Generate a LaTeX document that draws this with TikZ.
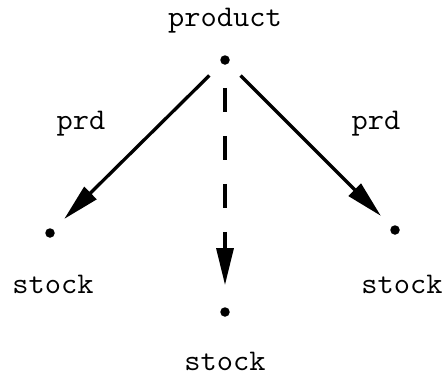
\documentclass[tikz,border=0pt]{standalone}
\usepackage{fontspec}
\newfontfamily\courfont{Latin Modern Mono}[FakeStretch=1.05]
\usetikzlibrary{arrows.meta}
\begin{document}
\begin{tikzpicture}[x=1pt,y=-1pt,
  pt/.style={circle,fill=black,inner sep=0pt,minimum size=9.5pt},
  lbl/.style={font=\courfont\fontsize{30}{32}\selectfont,inner sep=0pt},
  arr/.style={line width=3.3pt,-{Triangle[length=37pt,width=17pt]},shorten <=17pt,shorten >=15pt},
  dsh/.style={arr,dash pattern=on 24pt off 24pt}]
\useasboundingbox (0,0) rectangle (445,378);
\node[pt] (p) at (225,60) {};
\node[pt] (l) at (50,233) {};
\node[pt] (m) at (225,312) {};
\node[pt] (r) at (395,230) {};
\node[lbl] (tp) at (225,21) {product};
\node[lbl] (tl) at (53,284) {stock};
\node[lbl] (tm) at (225,361) {stock};
\node[lbl] (tr) at (402,284) {stock};
\node[lbl] (pl) at (81,124) {prd};
\node[lbl] (pr) at (376,124) {prd};
\draw[arr] (p) -- (l);
\draw[arr] (p) -- (r);
\draw[dsh,shorten <=23pt,shorten >=22pt] (p) -- (m);
\end{tikzpicture}
\end{document}
